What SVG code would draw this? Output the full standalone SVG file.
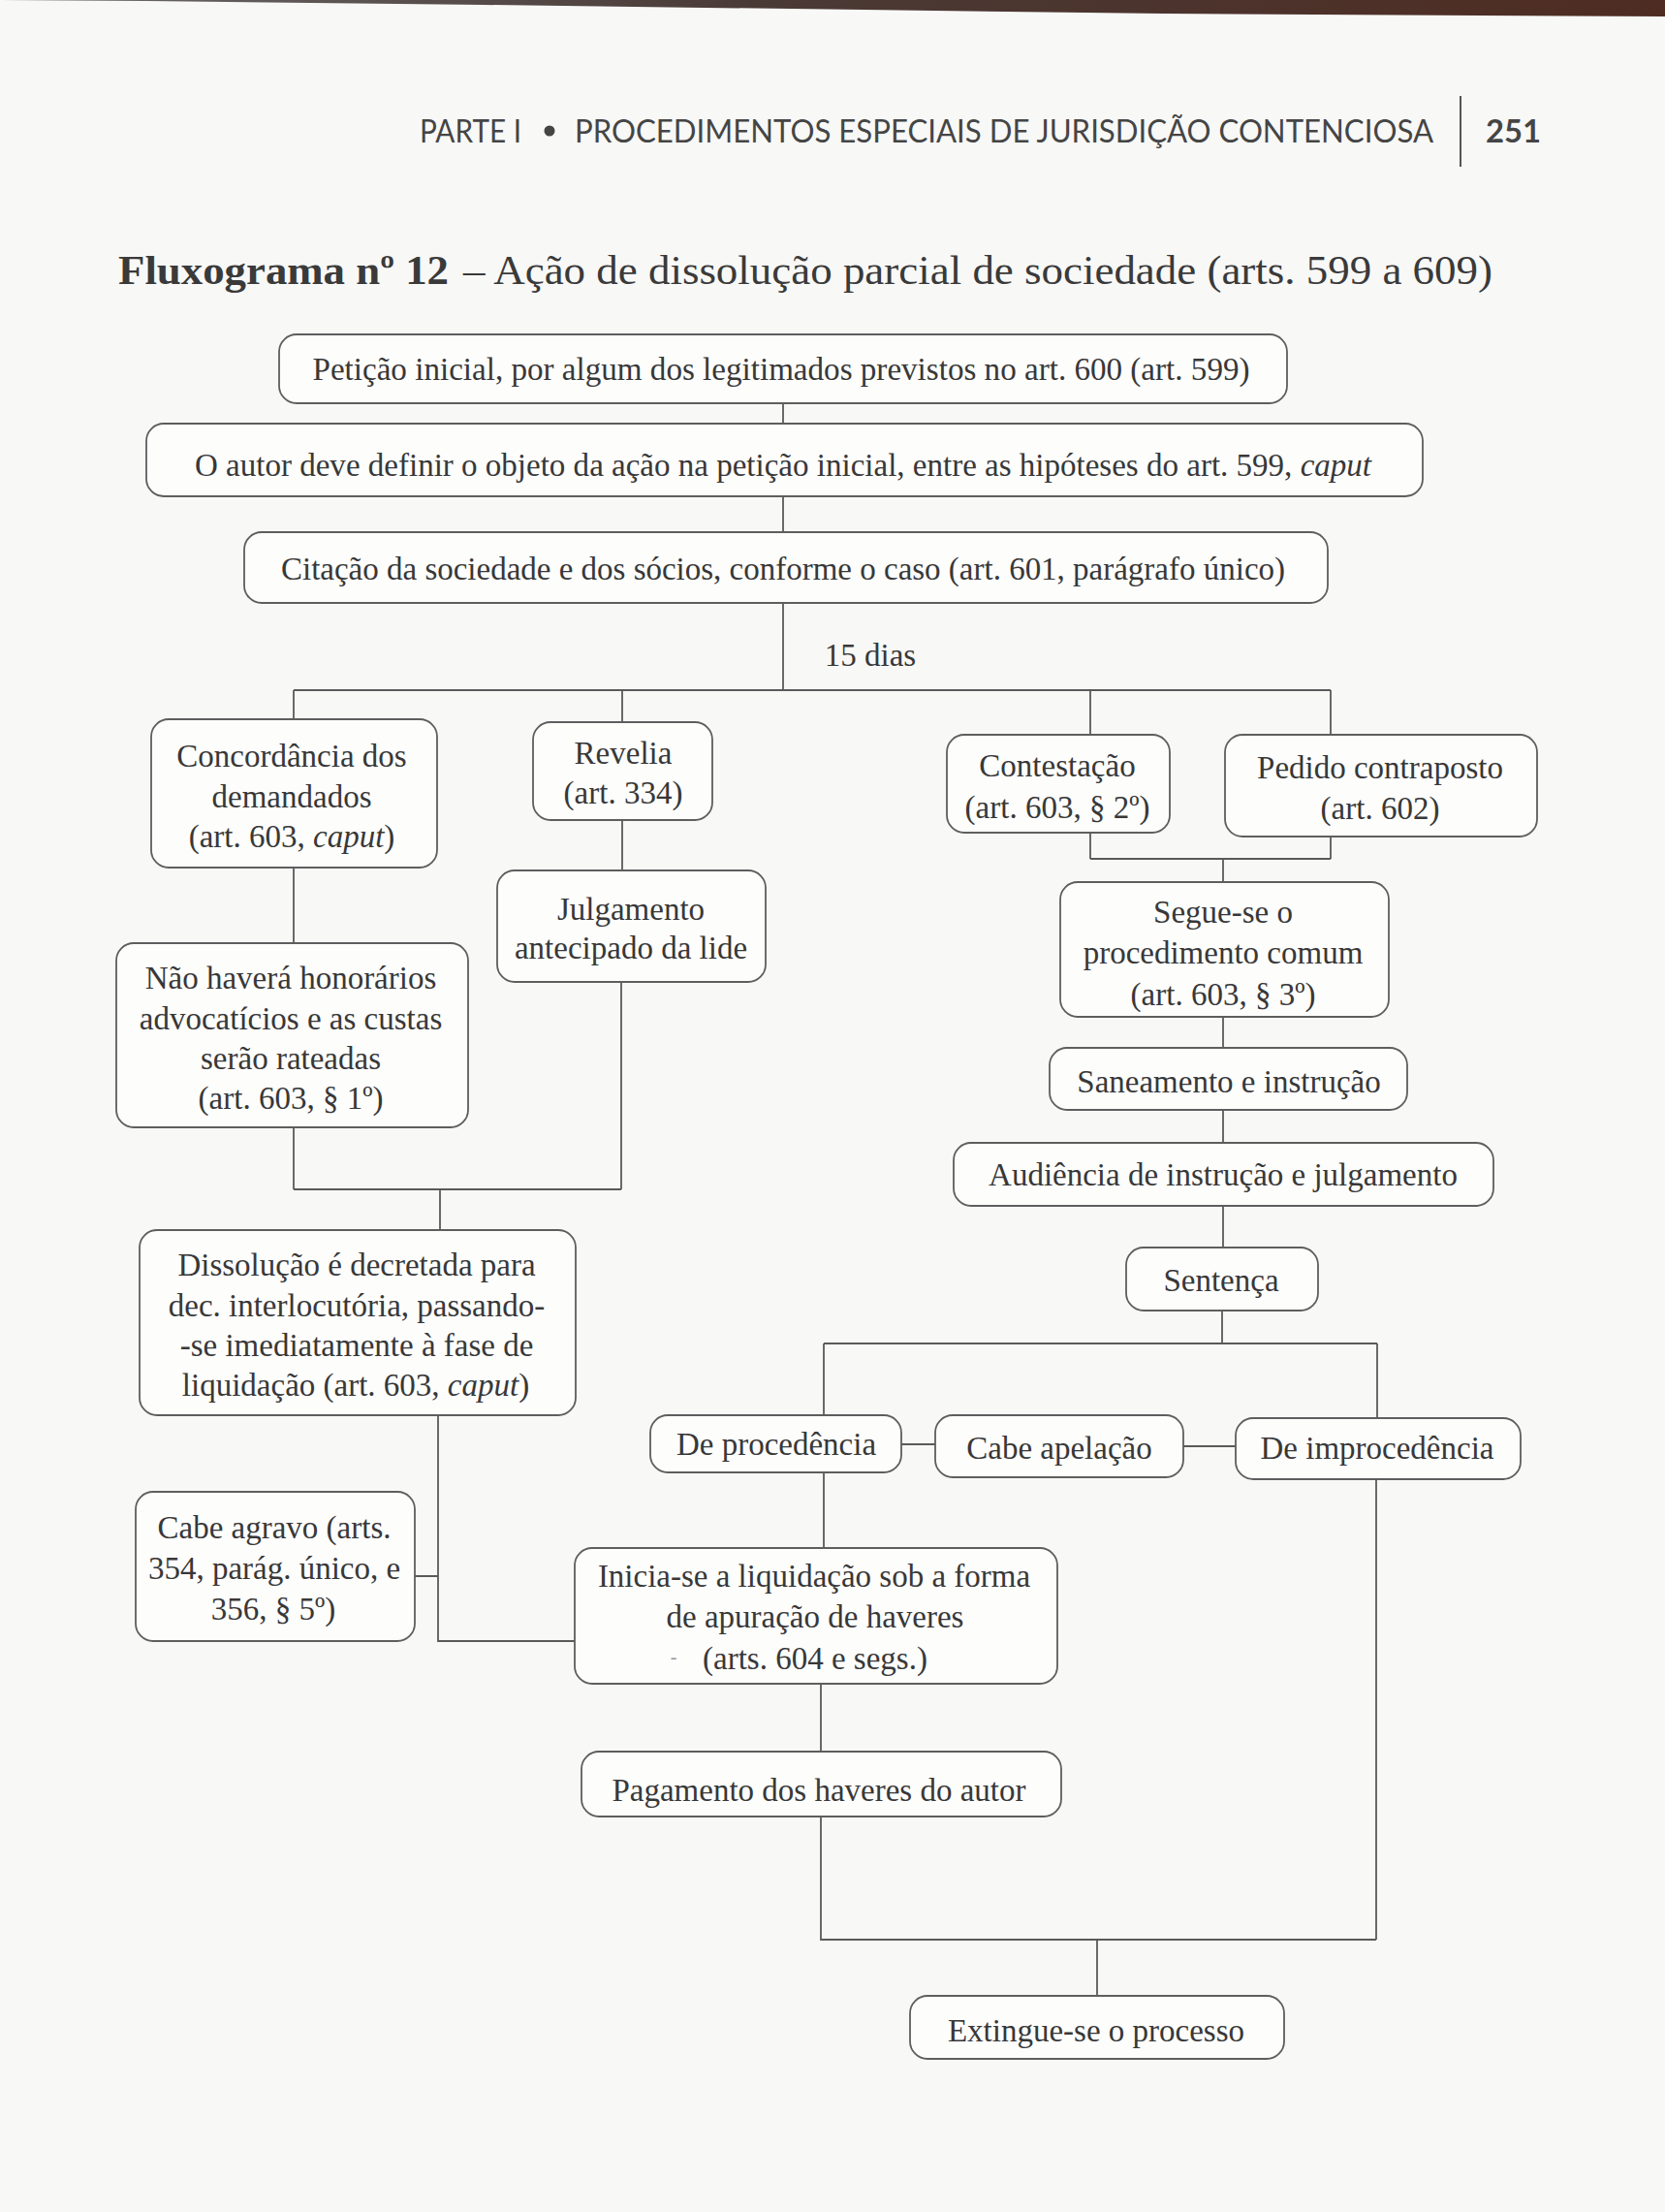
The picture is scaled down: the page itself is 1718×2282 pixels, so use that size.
<svg xmlns="http://www.w3.org/2000/svg" width="1718" height="2282" viewBox="0 0 1718 2282">
<defs>
<linearGradient id="band" x1="0" y1="0" x2="1" y2="0">
<stop offset="0" stop-color="#6a6a6a"/>
<stop offset="0.45" stop-color="#4a3a36"/>
<stop offset="1" stop-color="#4e2c22"/>
</linearGradient>
<style>
.bx{fill:#fdfdfc;stroke:#5e5e5e;stroke-width:1.8}
.t{font-family:"Liberation Serif","Times New Roman",serif;font-size:33px;fill:#383838;text-anchor:middle}
.c{fill:none;stroke:#5a5a5a;stroke-width:1.8}
.hd{font-family:Lato,"Open Sans",sans-serif;fill:#454545}
</style>
</defs>
<rect x="0" y="0" width="1718" height="2282" fill="#f8f8f7"/>
<polygon points="0,0 1718,0 1718,17 1200,14 500,5 150,1 0,0" fill="url(#band)"/>

<g id="header">
<text class="hd" x="433" y="147" font-size="32" textLength="105" lengthAdjust="spacingAndGlyphs">PARTE I</text>
<circle cx="567" cy="135" r="5.5" fill="#454545"/>
<text class="hd" x="593" y="147" font-size="32" textLength="886" lengthAdjust="spacingAndGlyphs">PROCEDIMENTOS ESPECIAIS DE JURISDIÇÃO CONTENCIOSA</text>
<line x1="1507" y1="99" x2="1507" y2="172" stroke="#555" stroke-width="2"/>
<text class="hd" x="1533" y="147" font-size="32" font-weight="bold" textLength="57" lengthAdjust="spacingAndGlyphs">251</text>
</g>

<g id="title">
<text x="122" y="293" font-family="Liberation Serif,'Times New Roman',serif" font-size="42" font-weight="bold" fill="#3a3a3a" textLength="341" lengthAdjust="spacingAndGlyphs">Fluxograma nº 12</text>
<text x="478" y="293" font-family="Liberation Serif,'Times New Roman',serif" font-size="42" fill="#3a3a3a" textLength="1062" lengthAdjust="spacingAndGlyphs">– Ação de dissolução parcial de sociedade (arts. 599 a 609)</text>
</g>

<g id="connectors">
<path class="c" d="M808,416V437 M808,512V549 M808,622V712"/>
<path class="c" d="M303,712H1373 M303,712V742 M642,712V745 M1125,712V758 M1373,712V758"/>
<path class="c" d="M303,895V973 M642,846V898"/>
<path class="c" d="M303,1163V1227 M641,1013V1227 M303,1227H641 M454,1227V1269"/>
<path class="c" d="M1125,859V886 M1373,863V886 M1125,886H1373 M1262,886V910"/>
<path class="c" d="M1262,1049V1081 M1262,1145V1179 M1262,1244V1287"/>
<path class="c" d="M1261,1352V1386 M850,1386H1421 M850,1386V1460 M1421,1386V1463"/>
<path class="c" d="M930,1490H965 M1221,1492H1275"/>
<path class="c" d="M850,1519V1597 M1420,1526V2001"/>
<path class="c" d="M452,1460V1693H593 M428,1626H452"/>
<path class="c" d="M847,1737V1807 M847,1874V2001H1420 M1132,2001V2059"/>
<text class="t" x="898" y="687">15 dias</text>
</g>

<g id="peticao">
<rect class="bx" x="288" y="345" width="1040" height="71" rx="18"/>
<text class="t" x="806" y="392" textLength="967" lengthAdjust="spacingAndGlyphs">Petição inicial, por algum dos legitimados previstos no art. 600 (art. 599)</text>
</g>
<g id="autor">
<rect class="bx" x="151" y="437" width="1317" height="75" rx="18"/>
<text class="t" x="808" y="491" textLength="1214" lengthAdjust="spacingAndGlyphs">O autor deve definir o objeto da ação na petição inicial, entre as hipóteses do art. 599, <tspan font-style="italic">caput</tspan></text>
</g>
<g id="citacao">
<rect class="bx" x="252" y="549" width="1118" height="73" rx="18"/>
<text class="t" x="808" y="598" textLength="1036" lengthAdjust="spacingAndGlyphs">Citação da sociedade e dos sócios, conforme o caso (art. 601, parágrafo único)</text>
</g>
<g id="concordancia">
<rect class="bx" x="156" y="742" width="295" height="153" rx="18"/>
<text class="t" x="301" y="791">Concordância dos</text>
<text class="t" x="301" y="833">demandados</text>
<text class="t" x="301" y="874">(art. 603, <tspan font-style="italic">caput</tspan>)</text>
</g>
<g id="revelia">
<rect class="bx" x="550" y="745" width="185" height="101" rx="18"/>
<text class="t" x="643" y="788">Revelia</text>
<text class="t" x="643" y="829">(art. 334)</text>
</g>
<g id="contestacao">
<rect class="bx" x="977" y="758" width="230" height="101" rx="18"/>
<text class="t" x="1091" y="801">Contestação</text>
<text class="t" x="1091" y="844">(art. 603, § 2º)</text>
</g>
<g id="pedido">
<rect class="bx" x="1264" y="758" width="322" height="105" rx="18"/>
<text class="t" x="1424" y="803">Pedido contraposto</text>
<text class="t" x="1424" y="845">(art. 602)</text>
</g>
<g id="julgamento">
<rect class="bx" x="513" y="898" width="277" height="115" rx="18"/>
<text class="t" x="651" y="949">Julgamento</text>
<text class="t" x="651" y="989">antecipado da lide</text>
</g>
<g id="naohavera">
<rect class="bx" x="120" y="973" width="363" height="190" rx="18"/>
<text class="t" x="300" y="1020">Não haverá honorários</text>
<text class="t" x="300" y="1062">advocatícios e as custas</text>
<text class="t" x="300" y="1103">serão rateadas</text>
<text class="t" x="300" y="1144">(art. 603, § 1º)</text>
</g>
<g id="segue">
<rect class="bx" x="1094" y="910" width="339" height="139" rx="18"/>
<text class="t" x="1262" y="952">Segue-se o</text>
<text class="t" x="1262" y="994">procedimento comum</text>
<text class="t" x="1262" y="1037">(art. 603, § 3º)</text>
</g>
<g id="saneamento">
<rect class="bx" x="1083" y="1081" width="369" height="64" rx="18"/>
<text class="t" x="1268" y="1127">Saneamento e instrução</text>
</g>
<g id="audiencia">
<rect class="bx" x="984" y="1179" width="557" height="65" rx="18"/>
<text class="t" x="1262" y="1223">Audiência de instrução e julgamento</text>
</g>
<g id="sentenca">
<rect class="bx" x="1162" y="1287" width="198" height="65" rx="18"/>
<text class="t" x="1260" y="1332">Sentença</text>
</g>
<g id="dissolucao">
<rect class="bx" x="144" y="1269" width="450" height="191" rx="18"/>
<text class="t" x="368" y="1316">Dissolução é decretada para</text>
<text class="t" x="368" y="1358">dec. interlocutória, passando-</text>
<text class="t" x="368" y="1399">-se imediatamente à fase de</text>
<text class="t" x="367" y="1440">liquidação (art. 603, <tspan font-style="italic">caput</tspan>)</text>
</g>
<g id="deprocedencia">
<rect class="bx" x="671" y="1460" width="259" height="59" rx="18"/>
<text class="t" x="801" y="1501">De procedência</text>
</g>
<g id="cabeapelacao">
<rect class="bx" x="965" y="1460" width="256" height="64" rx="18"/>
<text class="t" x="1093" y="1505">Cabe apelação</text>
</g>
<g id="deimprocedencia">
<rect class="bx" x="1275" y="1463" width="294" height="63" rx="18"/>
<text class="t" x="1421" y="1505">De improcedência</text>
</g>
<g id="cabeagravo">
<rect class="bx" x="140" y="1539" width="288" height="154" rx="18"/>
<text class="t" x="283" y="1587">Cabe agravo (arts.</text>
<text class="t" x="283" y="1629">354, parág. único, e</text>
<text class="t" x="282" y="1671">356, § 5º)</text>
</g>
<g id="inicia">
<rect class="bx" x="593" y="1597" width="498" height="140" rx="18"/>
<text class="t" x="840" y="1637">Inicia-se a liquidação sob a forma</text>
<text class="t" x="841" y="1679">de apuração de haveres</text>
<text x="695" y="1716" font-family="Liberation Serif,serif" font-size="20" fill="#999" text-anchor="middle">-</text>
<text class="t" x="841" y="1722">(arts. 604 e segs.)</text>
</g>
<g id="pagamento">
<rect class="bx" x="600" y="1807" width="495" height="67" rx="18"/>
<text class="t" x="845" y="1858">Pagamento dos haveres do autor</text>
</g>
<g id="extingue">
<rect class="bx" x="939" y="2059" width="386" height="65" rx="18"/>
<text class="t" x="1131" y="2106">Extingue-se o processo</text>
</g>
</svg>
